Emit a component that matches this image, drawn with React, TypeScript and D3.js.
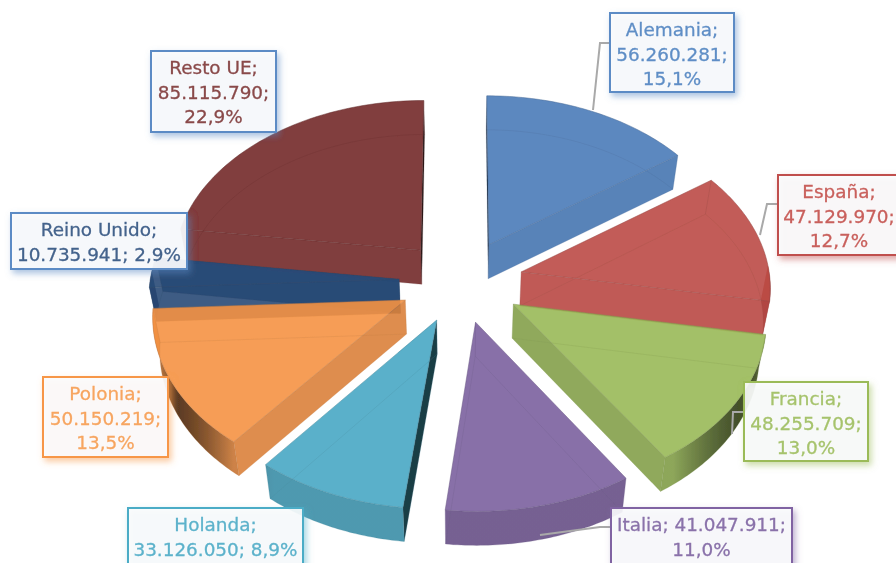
import React from "react";
import * as d3 from "d3";

// ---- data ----
const countries = ["Alemania", "España", "Francia", "Italia", "Holanda", "Polonia", "Reino Unido", "Resto UE"];
const values = [56260281, 47129970, 48255709, 41047911, 33126050, 50150219, 10735941, 85115790];
const sliceColors = ["#5c88bf", "#c25c58", "#a3c068", "#8870a8", "#5ab0ca", "#f69d56", "#3e5c85", "#813d3d"];
const textColors = ["#5f8ec6", "#c9605c", "#a6c36c", "#8a72aa", "#5cb2cb", "#f7a560", "#44638c", "#8a4a4a"];
const borderColors = ["#5b8bc5", "#c0504d", "#9bbb59", "#8064a2", "#4bacc6", "#f79646", "#5b8bc5", "#5b8bc5"];

// ---- layout ----
const WIDTH = 896, HEIGHT = 563;
const CX = 461, CY = 281, AX = 249, AY = 166.7, PERSP = 0.0814;
const EXPLODE = 0.249, DEPTH = 34, BOTTOM_SHRINK = 0.977, ALPHA = 0.9;
const LINE_GAP = 24.5;
// x0, y0, x1, y1 of each label box, wrap mode, leader polyline
const labelBoxes: [number, number, number, number, string, [number, number][]][] = [
  [610, 13, 734, 92, "three", [[610, 43], [600, 43], [593, 110]]],
  [778, 175, 900, 255, "three", [[778, 204], [767, 204], [760, 235]]],
  [744, 382, 868, 461, "three", [[744, 412], [733, 412], [732, 434]]],
  [611, 508, 792, 590, "nameValue", [[611, 527], [600, 527], [540, 535]]],
  [128, 508, 303, 590, "valuePct", []],
  [43, 377, 168, 457, "three", []],
  [11, 213, 187, 269, "valuePct", []],
  [151, 51, 276, 132, "three", []],
];

const num = d3.formatLocale({ decimal: ",", thousands: ".", grouping: [3], currency: ["", "€"] });
const fmtInt = num.format(",d");
const fmtPct = num.format(".1%");

type P = [number, number];
const project = (X: number, Y: number, low = false): P => {
  const s = 1 / (1 + PERSP * Y);
  let px = CX + X * AX * s;
  let py = CY - Y * AY * s;
  if (low) {
    px = CX + (px - CX) * BOTTOM_SHRINK;
    py += DEPTH;
  }
  return [px, py];
};

const rimBySin = d3.scaleLinear().domain([0.6, 0.95]).range([0.87, 0.38]).clamp(true);
const rimByCos = d3.scaleLinear().domain([-0.3, -0.03]).range([0.38, 0.95]).clamp(true);
const sideShade = d3.scaleLinear().domain([0, 0.6, 0.85, 0.97, 1]).range([1, 0.96, 0.88, 0.5, 0.3]).clamp(true);

// colour that shows as `c` on white once painted at ALPHA
const solid = (c: string, mult = 1) => {
  const r = d3.rgb(c);
  const f = (v: number) => Math.max(0, Math.min(255, (v * mult - (1 - ALPHA) * 255) / ALPHA));
  return d3.rgb(f(r.r), f(r.g), f(r.b)).formatHex();
};

const pathOf = d3.line<P>();
const total = d3.sum(values);
const arcs = d3.pie<number>().sort(null).startAngle(0).endAngle(2 * Math.PI)(values);

const slices = arcs.map((a, i) => {
  const mid = (a.startAngle + a.endAngle) / 2;
  const ax = EXPLODE * Math.sin(mid);
  const ay = EXPLODE * Math.cos(mid);
  const n = 48;
  const thetas = d3.range(n + 1).map((k) => a.startAngle + ((a.endAngle - a.startAngle) * k) / n);
  const at = (t: number, low = false) => project(ax + Math.sin(t), ay + Math.cos(t), low);
  const topArc = thetas.map((t) => at(t));
  const lowArc = thetas.map((t) => at(t, true));
  const apexT = project(ax, ay);
  const apexB = project(ax, ay, true);
  const topPoly: P[] = [apexT, ...topArc];
  const top = pathOf(topPoly) + "Z";
  const bottom = pathOf([apexB, ...lowArc]) + "Z";
  const faceVisible = (edge: P) => {
    const mx = (apexB[0] + edge[0]) / 2, my = (apexB[1] + edge[1]) / 2;
    return !d3.polygonContains(topPoly, [mx, my]);
  };
  const startFace = faceVisible(lowArc[0]) ? pathOf([apexT, topArc[0], lowArc[0], apexB]) + "Z" : null;
  const endFace = faceVisible(lowArc[n]) ? pathOf([apexT, topArc[n], lowArc[n], apexB]) + "Z" : null;
  const startShade = sideShade(Math.abs(Math.sin(a.startAngle - Math.PI / 2)));
  const endShade = sideShade(Math.abs(Math.sin(a.endAngle + Math.PI / 2)));
  const frontIdx = thetas.map((t, k) => (Math.cos(t) < 0.05 ? k : -1)).filter((k) => k >= 0);
  const frontT = frontIdx.map((k) => topArc[k]);
  const frontB = frontIdx.map((k) => lowArc[k]);
  const rim = frontIdx.length > 1 ? pathOf([...frontT, ...frontB.reverse()]) + "Z" : null;
  const stops = frontIdx.map((k, j) => ({
    off: j / Math.max(1, frontIdx.length - 1),
    col: solid(sliceColors[i], Math.max(rimBySin(Math.abs(Math.sin(thetas[k]))), rimByCos(Math.cos(thetas[k])))),
  }));
  const x1 = frontIdx.length ? topArc[frontIdx[0]] : apexT;
  const x2 = frontIdx.length ? topArc[frontIdx[frontIdx.length - 1]] : apexT;
  return { i, mid, top, bottom, startFace, endFace, startShade, endShade, rim, stops, x1, x2,
    verts: [[topArc[0], lowArc[0]], [topArc[n], lowArc[n]], [apexT, apexB]] as [P, P][] };
});
const paintOrder = [...slices].sort((a, b) => Math.cos(b.mid) - Math.cos(a.mid));

const labelLines = (i: number) => {
  const name = countries[i] + ";";
  const val = fmtInt(values[i]);
  const pct = fmtPct(values[i] / total);
  const mode = labelBoxes[i][4];
  if (mode === "nameValue") return [`${name} ${val};`, pct];
  if (mode === "valuePct") return [name, `${val}; ${pct}`];
  return [name, `${val};`, pct];
};

export default function App() {
  return (
    <svg width={WIDTH} height={HEIGHT} viewBox={`0 0 ${WIDTH} ${HEIGHT}`}
      style={{ position: "absolute", left: 0, top: 0, background: "#fff" }}>
      <defs>
        <filter id="soft" x="-2%" y="-2%" width="104%" height="104%">
          <feGaussianBlur stdDeviation="0.35" />
        </filter>
        {labelBoxes.map((_, i) => (
          <filter key={i} id={`shadow${i}`} x="-20%" y="-20%" width="140%" height="140%">
            <feDropShadow dx="2.5" dy="3.5" stdDeviation="3" floodColor={borderColors[i]} floodOpacity="0.55" />
          </filter>
        ))}
        {slices.map((s) => (
          <linearGradient key={s.i} id={`rim${s.i}`} gradientUnits="userSpaceOnUse"
            x1={s.x1[0]} y1={0} x2={s.x2[0] === s.x1[0] ? s.x1[0] + 1 : s.x2[0]} y2={0}>
            {s.stops.map((st, k) => <stop key={k} offset={st.off} stopColor={st.col} />)}
          </linearGradient>
        ))}
      </defs>
      <g filter="url(#soft)">
        {paintOrder.map((s) => {
          const c = sliceColors[s.i];
          const edge = d3.rgb(c).darker(0.7).formatHex();
          return (
            <g key={s.i}>
              {s.startFace && <path d={s.startFace} fill={solid(c, s.startShade)} fillOpacity={ALPHA} />}
              {s.endFace && <path d={s.endFace} fill={solid(c, s.endShade)} fillOpacity={ALPHA} />}
              {s.rim && <path d={s.rim} fill={`url(#rim${s.i})`} fillOpacity={ALPHA} />}
              <path d={s.top} fill={solid(c)} fillOpacity={ALPHA} />
              <path d={s.bottom} fill="none" stroke={edge} strokeOpacity={0.22} strokeWidth={1} />
              {s.verts.map(([a, b], k) => (
                <line key={k} x1={a[0]} y1={a[1]} x2={b[0]} y2={b[1]} stroke={edge} strokeOpacity={0.3} strokeWidth={1} />
              ))}
              <path d={s.top} fill="none" stroke={edge} strokeOpacity={0.5} strokeWidth={1} />
            </g>
          );
        })}
        {labelBoxes.map(([x0, y0, x1, y1, , leader], i) => (
          <g key={countries[i]}>
            {leader.length > 0 && (
              <path d={pathOf(leader) as string} fill="none" stroke="#a9a9a9" strokeWidth={2} />
            )}
            <rect x={x0} y={y0} width={x1 - x0} height={y1 - y0} fill="#fbfcfd" fillOpacity={0.9}
              stroke={borderColors[i]} strokeWidth={2} filter={`url(#shadow${i})`} />
            {labelLines(i).map((t, k) => (
              <text key={k} x={(x0 + Math.min(x1, WIDTH + 4)) / 2} y={y0 + 23 + k * LINE_GAP} textAnchor="middle"
                fontFamily="'DejaVu Sans', sans-serif" fontSize={18.4} fill={textColors[i]}
                stroke={textColors[i]} strokeWidth={0.3}>{t}</text>
            ))}
          </g>
        ))}
      </g>
    </svg>
  );
}
